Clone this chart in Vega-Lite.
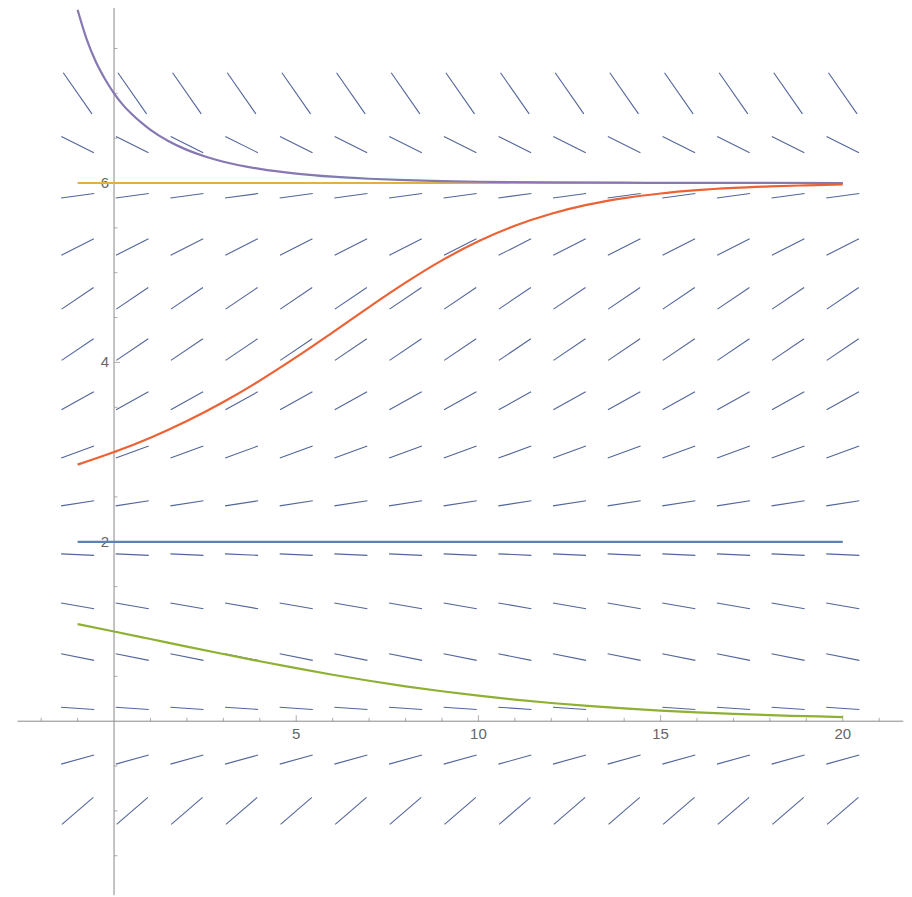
{
  "$schema": "https://vega.github.io/schema/vega-lite/v6.json",
  "width": 912,
  "height": 897,
  "autosize": {"type": "fit", "contains": "padding"},
  "padding": 0,
  "background": "white",
  "config": {"view": {"stroke": null}},
  "datasets": {
    "field": [
      {"x":-1.43,"y":-1.15,"x2":-0.57,"y2":-0.85},{"x":0.07,"y":-1.15,"x2":0.93,"y2":-0.85},{"x":1.57,"y":-1.15,"x2":2.43,"y2":-0.85},{"x":3.07,"y":-1.15,"x2":3.93,"y2":-0.85},{"x":4.57,"y":-1.15,"x2":5.43,"y2":-0.85},{"x":6.07,"y":-1.15,"x2":6.93,"y2":-0.85},{"x":7.57,"y":-1.15,"x2":8.43,"y2":-0.85},{"x":9.07,"y":-1.15,"x2":9.93,"y2":-0.85},{"x":10.57,"y":-1.15,"x2":11.43,"y2":-0.85},{"x":12.07,"y":-1.15,"x2":12.93,"y2":-0.85},{"x":13.57,"y":-1.15,"x2":14.43,"y2":-0.85},{"x":15.07,"y":-1.15,"x2":15.93,"y2":-0.85},{"x":16.57,"y":-1.15,"x2":17.43,"y2":-0.85},{"x":18.07,"y":-1.15,"x2":18.93,"y2":-0.85},{"x":19.57,"y":-1.15,"x2":20.43,"y2":-0.85},
      {"x":-1.452,"y":-0.479,"x2":-0.548,"y2":-0.378},{"x":0.048,"y":-0.479,"x2":0.952,"y2":-0.378},{"x":1.548,"y":-0.479,"x2":2.452,"y2":-0.378},{"x":3.048,"y":-0.479,"x2":3.952,"y2":-0.378},{"x":4.548,"y":-0.479,"x2":5.452,"y2":-0.378},{"x":6.048,"y":-0.479,"x2":6.952,"y2":-0.378},{"x":7.548,"y":-0.479,"x2":8.452,"y2":-0.378},{"x":9.048,"y":-0.479,"x2":9.952,"y2":-0.378},{"x":10.548,"y":-0.479,"x2":11.452,"y2":-0.378},{"x":12.048,"y":-0.479,"x2":12.952,"y2":-0.378},{"x":13.548,"y":-0.479,"x2":14.452,"y2":-0.378},{"x":15.048,"y":-0.479,"x2":15.952,"y2":-0.378},{"x":16.548,"y":-0.479,"x2":17.452,"y2":-0.378},{"x":18.048,"y":-0.479,"x2":18.952,"y2":-0.378},{"x":19.548,"y":-0.479,"x2":20.452,"y2":-0.378},
      {"x":-1.454,"y":0.155,"x2":-0.546,"y2":0.131},{"x":0.046,"y":0.155,"x2":0.954,"y2":0.131},{"x":1.546,"y":0.155,"x2":2.454,"y2":0.131},{"x":3.046,"y":0.155,"x2":3.954,"y2":0.131},{"x":4.546,"y":0.155,"x2":5.454,"y2":0.131},{"x":6.046,"y":0.155,"x2":6.954,"y2":0.131},{"x":7.546,"y":0.155,"x2":8.454,"y2":0.131},{"x":9.046,"y":0.155,"x2":9.954,"y2":0.131},{"x":10.546,"y":0.155,"x2":11.454,"y2":0.131},{"x":12.046,"y":0.155,"x2":12.954,"y2":0.131},{"x":13.546,"y":0.155,"x2":14.454,"y2":0.131},{"x":15.046,"y":0.155,"x2":15.954,"y2":0.131},{"x":16.546,"y":0.155,"x2":17.454,"y2":0.131},{"x":18.046,"y":0.155,"x2":18.954,"y2":0.131},{"x":19.546,"y":0.155,"x2":20.454,"y2":0.131},
      {"x":-1.454,"y":0.751,"x2":-0.546,"y2":0.678},{"x":0.046,"y":0.751,"x2":0.954,"y2":0.678},{"x":1.546,"y":0.751,"x2":2.454,"y2":0.678},{"x":3.046,"y":0.751,"x2":3.954,"y2":0.678},{"x":4.546,"y":0.751,"x2":5.454,"y2":0.678},{"x":6.046,"y":0.751,"x2":6.954,"y2":0.678},{"x":7.546,"y":0.751,"x2":8.454,"y2":0.678},{"x":9.046,"y":0.751,"x2":9.954,"y2":0.678},{"x":10.546,"y":0.751,"x2":11.454,"y2":0.678},{"x":12.046,"y":0.751,"x2":12.954,"y2":0.678},{"x":13.546,"y":0.751,"x2":14.454,"y2":0.678},{"x":15.046,"y":0.751,"x2":15.954,"y2":0.678},{"x":16.546,"y":0.751,"x2":17.454,"y2":0.678},{"x":18.046,"y":0.751,"x2":18.954,"y2":0.678},{"x":19.546,"y":0.751,"x2":20.454,"y2":0.678},
      {"x":-1.454,"y":1.318,"x2":-0.546,"y2":1.253},{"x":0.046,"y":1.318,"x2":0.954,"y2":1.253},{"x":1.546,"y":1.318,"x2":2.454,"y2":1.253},{"x":3.046,"y":1.318,"x2":3.954,"y2":1.253},{"x":4.546,"y":1.318,"x2":5.454,"y2":1.253},{"x":6.046,"y":1.318,"x2":6.954,"y2":1.253},{"x":7.546,"y":1.318,"x2":8.454,"y2":1.253},{"x":9.046,"y":1.318,"x2":9.954,"y2":1.253},{"x":10.546,"y":1.318,"x2":11.454,"y2":1.253},{"x":12.046,"y":1.318,"x2":12.954,"y2":1.253},{"x":13.546,"y":1.318,"x2":14.454,"y2":1.253},{"x":15.046,"y":1.318,"x2":15.954,"y2":1.253},{"x":16.546,"y":1.318,"x2":17.454,"y2":1.253},{"x":18.046,"y":1.318,"x2":18.954,"y2":1.253},{"x":19.546,"y":1.318,"x2":20.454,"y2":1.253},
      {"x":-1.454,"y":1.865,"x2":-0.546,"y2":1.849},{"x":0.046,"y":1.865,"x2":0.954,"y2":1.849},{"x":1.546,"y":1.865,"x2":2.454,"y2":1.849},{"x":3.046,"y":1.865,"x2":3.954,"y2":1.849},{"x":4.546,"y":1.865,"x2":5.454,"y2":1.849},{"x":6.046,"y":1.865,"x2":6.954,"y2":1.849},{"x":7.546,"y":1.865,"x2":8.454,"y2":1.849},{"x":9.046,"y":1.865,"x2":9.954,"y2":1.849},{"x":10.546,"y":1.865,"x2":11.454,"y2":1.849},{"x":12.046,"y":1.865,"x2":12.954,"y2":1.849},{"x":13.546,"y":1.865,"x2":14.454,"y2":1.849},{"x":15.046,"y":1.865,"x2":15.954,"y2":1.849},{"x":16.546,"y":1.865,"x2":17.454,"y2":1.849},{"x":18.046,"y":1.865,"x2":18.954,"y2":1.849},{"x":19.546,"y":1.865,"x2":20.454,"y2":1.849},
      {"x":-1.454,"y":2.4,"x2":-0.546,"y2":2.457},{"x":0.046,"y":2.4,"x2":0.954,"y2":2.457},{"x":1.546,"y":2.4,"x2":2.454,"y2":2.457},{"x":3.046,"y":2.4,"x2":3.954,"y2":2.457},{"x":4.546,"y":2.4,"x2":5.454,"y2":2.457},{"x":6.046,"y":2.4,"x2":6.954,"y2":2.457},{"x":7.546,"y":2.4,"x2":8.454,"y2":2.457},{"x":9.046,"y":2.4,"x2":9.954,"y2":2.457},{"x":10.546,"y":2.4,"x2":11.454,"y2":2.457},{"x":12.046,"y":2.4,"x2":12.954,"y2":2.457},{"x":13.546,"y":2.4,"x2":14.454,"y2":2.457},{"x":15.046,"y":2.4,"x2":15.954,"y2":2.457},{"x":16.546,"y":2.4,"x2":17.454,"y2":2.457},{"x":18.046,"y":2.4,"x2":18.954,"y2":2.457},{"x":19.546,"y":2.4,"x2":20.454,"y2":2.457},
      {"x":-1.45,"y":2.933,"x2":-0.55,"y2":3.068},{"x":0.05,"y":2.933,"x2":0.95,"y2":3.068},{"x":1.55,"y":2.933,"x2":2.45,"y2":3.068},{"x":3.05,"y":2.933,"x2":3.95,"y2":3.068},{"x":4.55,"y":2.933,"x2":5.45,"y2":3.068},{"x":6.05,"y":2.933,"x2":6.95,"y2":3.068},{"x":7.55,"y":2.933,"x2":8.45,"y2":3.068},{"x":9.05,"y":2.933,"x2":9.95,"y2":3.068},{"x":10.55,"y":2.933,"x2":11.45,"y2":3.068},{"x":12.05,"y":2.933,"x2":12.95,"y2":3.068},{"x":13.55,"y":2.933,"x2":14.45,"y2":3.068},{"x":15.05,"y":2.933,"x2":15.95,"y2":3.068},{"x":16.55,"y":2.933,"x2":17.45,"y2":3.068},{"x":18.05,"y":2.933,"x2":18.95,"y2":3.068},{"x":19.55,"y":2.933,"x2":20.45,"y2":3.068},
      {"x":-1.444,"y":3.471,"x2":-0.556,"y2":3.672},{"x":0.056,"y":3.471,"x2":0.944,"y2":3.672},{"x":1.556,"y":3.471,"x2":2.444,"y2":3.672},{"x":3.056,"y":3.471,"x2":3.944,"y2":3.672},{"x":4.556,"y":3.471,"x2":5.444,"y2":3.672},{"x":6.056,"y":3.471,"x2":6.944,"y2":3.672},{"x":7.556,"y":3.471,"x2":8.444,"y2":3.672},{"x":9.056,"y":3.471,"x2":9.944,"y2":3.672},{"x":10.556,"y":3.471,"x2":11.444,"y2":3.672},{"x":12.056,"y":3.471,"x2":12.944,"y2":3.672},{"x":13.556,"y":3.471,"x2":14.444,"y2":3.672},{"x":15.056,"y":3.471,"x2":15.944,"y2":3.672},{"x":16.556,"y":3.471,"x2":17.444,"y2":3.672},{"x":18.056,"y":3.471,"x2":18.944,"y2":3.672},{"x":19.556,"y":3.471,"x2":20.444,"y2":3.672},
      {"x":-1.439,"y":4.022,"x2":-0.561,"y2":4.263},{"x":0.061,"y":4.022,"x2":0.939,"y2":4.263},{"x":1.561,"y":4.022,"x2":2.439,"y2":4.263},{"x":3.061,"y":4.022,"x2":3.939,"y2":4.263},{"x":4.561,"y":4.022,"x2":5.439,"y2":4.263},{"x":6.061,"y":4.022,"x2":6.939,"y2":4.263},{"x":7.561,"y":4.022,"x2":8.439,"y2":4.263},{"x":9.061,"y":4.022,"x2":9.939,"y2":4.263},{"x":10.561,"y":4.022,"x2":11.439,"y2":4.263},{"x":12.061,"y":4.022,"x2":12.939,"y2":4.263},{"x":13.561,"y":4.022,"x2":14.439,"y2":4.263},{"x":15.061,"y":4.022,"x2":15.939,"y2":4.263},{"x":16.561,"y":4.022,"x2":17.439,"y2":4.263},{"x":18.061,"y":4.022,"x2":18.939,"y2":4.263},{"x":19.561,"y":4.022,"x2":20.439,"y2":4.263},
      {"x":-1.439,"y":4.594,"x2":-0.561,"y2":4.835},{"x":0.061,"y":4.594,"x2":0.939,"y2":4.835},{"x":1.561,"y":4.594,"x2":2.439,"y2":4.835},{"x":3.061,"y":4.594,"x2":3.939,"y2":4.835},{"x":4.561,"y":4.594,"x2":5.439,"y2":4.835},{"x":6.061,"y":4.594,"x2":6.939,"y2":4.835},{"x":7.561,"y":4.594,"x2":8.439,"y2":4.835},{"x":9.061,"y":4.594,"x2":9.939,"y2":4.835},{"x":10.561,"y":4.594,"x2":11.439,"y2":4.835},{"x":12.061,"y":4.594,"x2":12.939,"y2":4.835},{"x":13.561,"y":4.594,"x2":14.439,"y2":4.835},{"x":15.061,"y":4.594,"x2":15.939,"y2":4.835},{"x":16.561,"y":4.594,"x2":17.439,"y2":4.835},{"x":18.061,"y":4.594,"x2":18.939,"y2":4.835},{"x":19.561,"y":4.594,"x2":20.439,"y2":4.835},
      {"x":-1.446,"y":5.194,"x2":-0.554,"y2":5.378},{"x":0.054,"y":5.194,"x2":0.946,"y2":5.378},{"x":1.554,"y":5.194,"x2":2.446,"y2":5.378},{"x":3.054,"y":5.194,"x2":3.946,"y2":5.378},{"x":4.554,"y":5.194,"x2":5.446,"y2":5.378},{"x":6.054,"y":5.194,"x2":6.946,"y2":5.378},{"x":7.554,"y":5.194,"x2":8.446,"y2":5.378},{"x":9.054,"y":5.194,"x2":9.946,"y2":5.378},{"x":10.554,"y":5.194,"x2":11.446,"y2":5.378},{"x":12.054,"y":5.194,"x2":12.946,"y2":5.378},{"x":13.554,"y":5.194,"x2":14.446,"y2":5.378},{"x":15.054,"y":5.194,"x2":15.946,"y2":5.378},{"x":16.554,"y":5.194,"x2":17.446,"y2":5.378},{"x":18.054,"y":5.194,"x2":18.946,"y2":5.378},{"x":19.554,"y":5.194,"x2":20.446,"y2":5.378},
      {"x":-1.454,"y":5.833,"x2":-0.546,"y2":5.882},{"x":0.046,"y":5.833,"x2":0.954,"y2":5.882},{"x":1.546,"y":5.833,"x2":2.454,"y2":5.882},{"x":3.046,"y":5.833,"x2":3.954,"y2":5.882},{"x":4.546,"y":5.833,"x2":5.454,"y2":5.882},{"x":6.046,"y":5.833,"x2":6.954,"y2":5.882},{"x":7.546,"y":5.833,"x2":8.454,"y2":5.882},{"x":9.046,"y":5.833,"x2":9.954,"y2":5.882},{"x":10.546,"y":5.833,"x2":11.454,"y2":5.882},{"x":12.046,"y":5.833,"x2":12.954,"y2":5.882},{"x":13.546,"y":5.833,"x2":14.454,"y2":5.882},{"x":15.046,"y":5.833,"x2":15.954,"y2":5.882},{"x":16.546,"y":5.833,"x2":17.454,"y2":5.882},{"x":18.046,"y":5.833,"x2":18.954,"y2":5.882},{"x":19.546,"y":5.833,"x2":20.454,"y2":5.882},
      {"x":-1.446,"y":6.519,"x2":-0.554,"y2":6.338},{"x":0.054,"y":6.519,"x2":0.946,"y2":6.338},{"x":1.554,"y":6.519,"x2":2.446,"y2":6.338},{"x":3.054,"y":6.519,"x2":3.946,"y2":6.338},{"x":4.554,"y":6.519,"x2":5.446,"y2":6.338},{"x":6.054,"y":6.519,"x2":6.946,"y2":6.338},{"x":7.554,"y":6.519,"x2":8.446,"y2":6.338},{"x":9.054,"y":6.519,"x2":9.946,"y2":6.338},{"x":10.554,"y":6.519,"x2":11.446,"y2":6.338},{"x":12.054,"y":6.519,"x2":12.946,"y2":6.338},{"x":13.554,"y":6.519,"x2":14.446,"y2":6.338},{"x":15.054,"y":6.519,"x2":15.946,"y2":6.338},{"x":16.554,"y":6.519,"x2":17.446,"y2":6.338},{"x":18.054,"y":6.519,"x2":18.946,"y2":6.338},{"x":19.554,"y":6.519,"x2":20.446,"y2":6.338},
      {"x":-1.393,"y":7.229,"x2":-0.607,"y2":6.771},{"x":0.107,"y":7.229,"x2":0.893,"y2":6.771},{"x":1.607,"y":7.229,"x2":2.393,"y2":6.771},{"x":3.107,"y":7.229,"x2":3.893,"y2":6.771},{"x":4.607,"y":7.229,"x2":5.393,"y2":6.771},{"x":6.107,"y":7.229,"x2":6.893,"y2":6.771},{"x":7.607,"y":7.229,"x2":8.393,"y2":6.771},{"x":9.107,"y":7.229,"x2":9.893,"y2":6.771},{"x":10.607,"y":7.229,"x2":11.393,"y2":6.771},{"x":12.107,"y":7.229,"x2":12.893,"y2":6.771},{"x":13.607,"y":7.229,"x2":14.393,"y2":6.771},{"x":15.107,"y":7.229,"x2":15.893,"y2":6.771},{"x":16.607,"y":7.229,"x2":17.393,"y2":6.771},{"x":18.107,"y":7.229,"x2":18.893,"y2":6.771},{"x":19.607,"y":7.229,"x2":20.393,"y2":6.771}
    ],
    "xaxis": [{"x": -2.65, "x2": 21.66, "y": 0}],
    "yaxis": [{"x": 0, "y": -1.94, "y2": 7.95}],
    "xminor": [{"x":-2},{"x":-1},{"x":1},{"x":2},{"x":3},{"x":4},{"x":6},{"x":7},{"x":8},{"x":9},{"x":11},{"x":12},{"x":13},{"x":14},{"x":16},{"x":17},{"x":18},{"x":19},{"x":21}],
    "xmajor": [{"x":5,"label":"5"},{"x":10,"label":"10"},{"x":15,"label":"15"},{"x":20,"label":"20"}],
    "yminor": [{"y":-1.5},{"y":-1},{"y":-0.5},{"y":0.5},{"y":1},{"y":1.5},{"y":2.5},{"y":3},{"y":3.5},{"y":4.5},{"y":5},{"y":5.5},{"y":6.5},{"y":7},{"y":7.5}],
    "ymajor": [{"y":2,"label":"2"},{"y":4,"label":"4"},{"y":6,"label":"6"}],
    "blue": [{"t":-1,"y":2},{"t":20,"y":2}],
    "yellow": [{"t":-1,"y":6},{"t":20,"y":6}],
    "green": [{"t":-1,"y":1.082},{"t":0,"y":1.0},{"t":1,"y":0.916},{"t":2,"y":0.832},{"t":3,"y":0.749},{"t":4,"y":0.668},{"t":5,"y":0.591},{"t":6,"y":0.518},{"t":7,"y":0.451},{"t":8,"y":0.389},{"t":9,"y":0.334},{"t":10,"y":0.284},{"t":11,"y":0.241},{"t":12,"y":0.203},{"t":13,"y":0.17},{"t":14,"y":0.142},{"t":15,"y":0.118},{"t":16,"y":0.098},{"t":17,"y":0.081},{"t":18,"y":0.067},{"t":19,"y":0.056},{"t":20,"y":0.046}],
    "orange": [{"t":-1,"y":2.86},{"t":0,"y":3.0},{"t":1,"y":3.161},{"t":2,"y":3.347},{"t":3,"y":3.559},{"t":4,"y":3.797},{"t":5,"y":4.058},{"t":6,"y":4.335},{"t":7,"y":4.617},{"t":8,"y":4.889},{"t":9,"y":5.137},{"t":10,"y":5.35},{"t":11,"y":5.523},{"t":12,"y":5.657},{"t":13,"y":5.758},{"t":14,"y":5.831},{"t":15,"y":5.883},{"t":16,"y":5.92},{"t":17,"y":5.945},{"t":18,"y":5.962},{"t":19,"y":5.974},{"t":20,"y":5.983}],
    "purple": [{"t":-1,"y":7.93},{"t":-0.75,"y":7.6},{"t":-0.5,"y":7.351},{"t":-0.25,"y":7.16},{"t":0,"y":7.0},{"t":0.25,"y":6.868},{"t":0.5,"y":6.763},{"t":0.75,"y":6.672},{"t":1,"y":6.592},{"t":1.5,"y":6.465},{"t":2,"y":6.369},{"t":2.5,"y":6.295},{"t":3,"y":6.237},{"t":4,"y":6.157},{"t":5,"y":6.105},{"t":6,"y":6.07},{"t":7,"y":6.047},{"t":8,"y":6.031},{"t":9,"y":6.021},{"t":10,"y":6.014},{"t":12,"y":6.006},{"t":14,"y":6.003},{"t":16,"y":6.001},{"t":18,"y":6.0005},{"t":20,"y":6.0}]
  },
  "layer": [
    {
      "data": {"name": "field"},
      "mark": {"type": "rule", "color": "#52659a", "strokeWidth": 1.1},
      "encoding": {
        "x": {"field": "x", "type": "quantitative", "scale": {"domain": [-3.13, 21.9], "nice": false, "zero": false}, "axis": null},
        "y": {"field": "y", "type": "quantitative", "scale": {"domain": [-1.96, 8.04], "nice": false, "zero": false}, "axis": null},
        "x2": {"field": "x2"},
        "y2": {"field": "y2"}
      }
    },
    {
      "data": {"name": "xaxis"},
      "mark": {"type": "rule", "color": "#8a8a8a", "strokeWidth": 1},
      "encoding": {
        "x": {"field": "x", "type": "quantitative", "axis": null},
        "x2": {"field": "x2"},
        "y": {"field": "y", "type": "quantitative", "axis": null}
      }
    },
    {
      "data": {"name": "yaxis"},
      "mark": {"type": "rule", "color": "#8a8a8a", "strokeWidth": 1},
      "encoding": {
        "x": {"field": "x", "type": "quantitative", "axis": null},
        "y": {"field": "y", "type": "quantitative", "axis": null},
        "y2": {"field": "y2"}
      }
    },
    {
      "data": {"name": "xminor"},
      "mark": {"type": "tick", "orient": "vertical", "size": 3.5, "thickness": 1, "color": "#8a8a8a", "yOffset": -1.75},
      "encoding": {
        "x": {"field": "x", "type": "quantitative", "axis": null},
        "y": {"datum": 0, "type": "quantitative", "axis": null}
      }
    },
    {
      "data": {"name": "xmajor"},
      "mark": {"type": "tick", "orient": "vertical", "size": 6, "thickness": 1, "color": "#8a8a8a", "yOffset": -3},
      "encoding": {
        "x": {"field": "x", "type": "quantitative", "axis": null},
        "y": {"datum": 0, "type": "quantitative", "axis": null}
      }
    },
    {
      "data": {"name": "xmajor"},
      "mark": {"type": "text", "font": "Liberation Sans", "fontSize": 15, "color": "#666666", "align": "center", "baseline": "middle", "dy": 13},
      "encoding": {
        "x": {"field": "x", "type": "quantitative", "axis": null},
        "y": {"datum": 0, "type": "quantitative", "axis": null},
        "text": {"field": "label"}
      }
    },
    {
      "data": {"name": "yminor"},
      "mark": {"type": "tick", "orient": "horizontal", "size": 3.5, "thickness": 1, "color": "#8a8a8a", "xOffset": 1.75},
      "encoding": {
        "y": {"field": "y", "type": "quantitative", "axis": null},
        "x": {"datum": 0, "type": "quantitative", "axis": null}
      }
    },
    {
      "data": {"name": "ymajor"},
      "mark": {"type": "tick", "orient": "horizontal", "size": 6, "thickness": 1, "color": "#8a8a8a", "xOffset": 3},
      "encoding": {
        "y": {"field": "y", "type": "quantitative", "axis": null},
        "x": {"datum": 0, "type": "quantitative", "axis": null}
      }
    },
    {
      "data": {"name": "ymajor"},
      "mark": {"type": "text", "font": "Liberation Sans", "fontSize": 15, "color": "#666666", "align": "right", "baseline": "middle", "dx": -5},
      "encoding": {
        "y": {"field": "y", "type": "quantitative", "axis": null},
        "x": {"datum": 0, "type": "quantitative", "axis": null},
        "text": {"field": "label"}
      }
    },
    {
      "data": {"name": "blue"},
      "mark": {"type": "line", "color": "#5E81B5", "strokeWidth": 2.2},
      "encoding": {
        "x": {"field": "t", "type": "quantitative", "axis": null},
        "y": {"field": "y", "type": "quantitative", "axis": null}
      }
    },
    {
      "data": {"name": "yellow"},
      "mark": {"type": "line", "color": "#E2B040", "strokeWidth": 2.2},
      "encoding": {
        "x": {"field": "t", "type": "quantitative", "axis": null},
        "y": {"field": "y", "type": "quantitative", "axis": null}
      }
    },
    {
      "data": {"name": "green"},
      "mark": {"type": "line", "color": "#8FB032", "strokeWidth": 2.2, "interpolate": "monotone"},
      "encoding": {
        "x": {"field": "t", "type": "quantitative", "axis": null},
        "y": {"field": "y", "type": "quantitative", "axis": null}
      }
    },
    {
      "data": {"name": "orange"},
      "mark": {"type": "line", "color": "#EB6235", "strokeWidth": 2.2, "interpolate": "monotone"},
      "encoding": {
        "x": {"field": "t", "type": "quantitative", "axis": null},
        "y": {"field": "y", "type": "quantitative", "axis": null}
      }
    },
    {
      "data": {"name": "purple"},
      "mark": {"type": "line", "color": "#8778B3", "strokeWidth": 2.2, "interpolate": "monotone"},
      "encoding": {
        "x": {"field": "t", "type": "quantitative", "axis": null},
        "y": {"field": "y", "type": "quantitative", "axis": null}
      }
    }
  ]
}
